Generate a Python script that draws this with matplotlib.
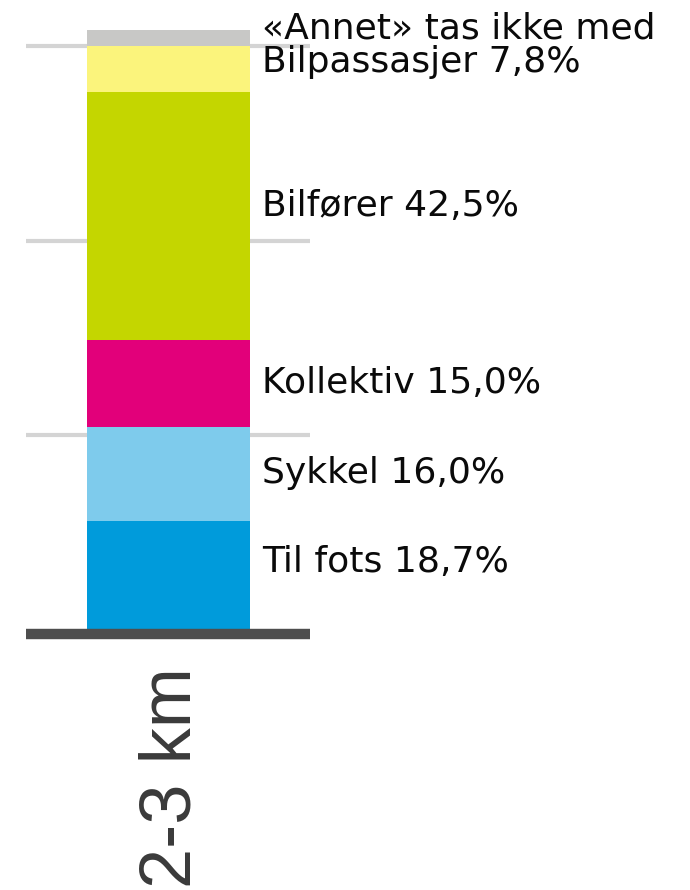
import matplotlib
matplotlib.use("Agg")
import matplotlib.pyplot as plt

# Data
category = "2-3 km"
modes = ["Til fots", "Sykkel", "Kollektiv", "Bilfører", "Bilpassasjer"]
shares = [18.7, 16.0, 15.0, 42.5, 7.8]
colors = ["#009bdb", "#7ecbec", "#e2007a", "#c4d600", "#fbf47c"]
annet_label = "«Annet» tas ikke med"
annet_share = 2.7
annet_color = "#c8c8c6"
grid_values = [100 / 3, 200 / 3, 100]

# label nudges (layout only, in axis units)
label_nudge = [2.3, 0.2, 0.1, 1.65, 1.15]
annet_nudge = 1.7

fig = plt.figure(figsize=(6.9, 8.9), dpi=100)
ax = fig.add_axes([0, 0, 1, 1])
ax.set_axis_off()

px_per_unit_y = 5.84
ax.set_ylim(-260 / px_per_unit_y, 630 / px_per_unit_y)
ax.set_xlim(-0.5 - 87 / 163, 0.5 + 440 / 163)

# gridlines
ax.hlines(grid_values, -0.874, 0.868, color="#d4d4d4", lw=3.0, zorder=1)

fmt = lambda v: f"{v:.1f}".replace(".", ",") + "%"

bottom = 0.0
for m, v, c, nd in zip(modes, shares, colors, label_nudge):
    ax.bar(0, v, bottom=bottom, width=1.0, color=c, zorder=2)
    ax.text(0.574, bottom + v / 2 + nd, f"{m} {fmt(v)}", ha="left", va="center",
            fontsize=26, color="#0a0a0a", family="DejaVu Sans")
    bottom += v

ax.bar(0, annet_share, bottom=bottom, width=1.0, color=annet_color, zorder=2)
ax.text(0.574, bottom + annet_share / 2 + annet_nudge, annet_label, ha="left", va="center",
        fontsize=26, color="#0a0a0a", family="DejaVu Sans")

# baseline
ax.hlines([-0.7], -0.874, 0.868, color="#4e4e4e", lw=7.5, zorder=3)

# category label
ax.text(0.02, -6.4, category, rotation=90, ha="center", va="top",
        fontsize=52, color="#3a3a3a", family="Liberation Sans")

fig.savefig("out.png", dpi=100)
